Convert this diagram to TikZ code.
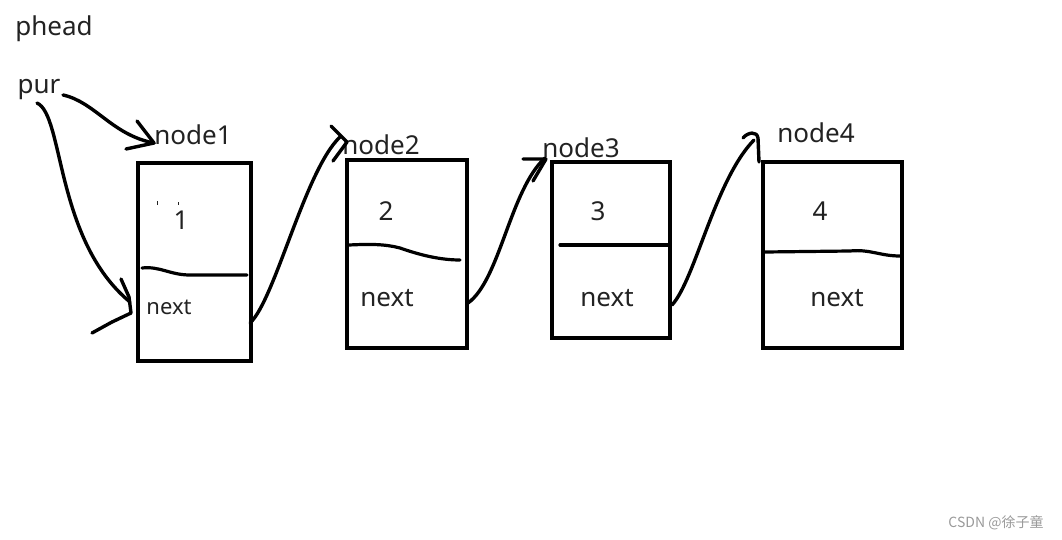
\documentclass[tikz,border=0pt]{standalone}
\usepackage{fontspec}
\setmainfont{Noto Sans}
\newfontfamily\cjk{Noto Sans CJK SC}
\definecolor{txt}{HTML}{222222}
\definecolor{wm}{HTML}{9A9A9A}
\begin{document}
\begin{tikzpicture}[x=1pt,y=-1pt,
  box/.style={draw=black,line width=4.4pt,minimum width=#1},
  lbl/.style={text=txt,font=\fontsize{26}{29}\selectfont,inner sep=0pt},
  hand/.style={draw=black,line width=3.4pt,line cap=round,line join=round},
  divider/.style={draw=black,line width=3.2pt,line cap=round}]
\useasboundingbox[fill=white] (0,0) rectangle (1062,540);
% boxes
\node[box=113pt,minimum height=198pt] (b1) at (194.5,262) {};
\node[box=120pt,minimum height=188pt] (b2) at (407,254) {};
\node[box=118pt,minimum height=176pt] (b3) at (611,250) {};
\node[box=139pt,minimum height=186pt] (b4) at (832.5,255) {};
% dividers
\draw[divider] (142,268) .. controls (160,266) and (170,275) .. (190,275) -- (247,275);
\draw[divider] (349,245) .. controls (370,244) and (385,244) .. (400,248) .. controls (420,255) and (440,260) .. (460,260);
\draw[divider] (560,245) -- (668,245);
\draw[divider] (765,252) -- (850,251) .. controls (870,249) and (880,256) .. (900,256);
% labels
\node[lbl] (phead) at (54,29) {phead};
\node[lbl] (pur) at (39,90) {pur};
\node[lbl] (n1) at (193,135) {node1};
\node[lbl] (n2) at (381,145) {node2};
\node[lbl] (n3) at (581,148) {node3};
\node[lbl] (n4) at (816,133) {node4};
\node[lbl] (v1) at (181,220) {1};
\node[lbl] (v2) at (386,211) {2};
\node[lbl] (v3) at (598,211) {3};
\node[lbl] (v4) at (820,211) {4};
\node[lbl,font=\fontsize{22}{25}\selectfont] (x1) at (169,307) {next};
\node[lbl] (x2) at (387,298) {next};
\node[lbl] (x3) at (607,298) {next};
\node[lbl] (x4) at (837,298) {next};
\node[text=wm,font=\cjk\fontsize{14}{16}\selectfont,inner sep=0pt] (wmk) at (996,523) {CSDN @徐子童};
% small marks
\draw[txt,line width=1pt] (157.5,201) -- (157.5,205);
\draw[txt,line width=1pt] (178,202) -- (178,205);
% connector endpoints
\coordinate (a1s) at (63,95);
\coordinate (a1e) at (154,143);
\coordinate (a2s) at (37,103);
\coordinate (a2e) at (130,302);
\coordinate (a3s) at (250,323);
\coordinate (a3e) at (340,137);
\coordinate (a4s) at (468,303);
\coordinate (a4e) at (545,158);
\coordinate (a5s) at (672,305);
\coordinate (a5e) at (754,140);
% pur -> node1
\draw[hand] (a1s) .. controls (95,102) and (112,135) .. (a1e);
\draw[hand] (137,121) -- (a1e) -- (126,149);
% pur -> next1
\draw[hand] (a2s) .. controls (64,115) and (55,240) .. (a2e);
\draw[hand] (121,279) -- (129,297) -- (131,313) -- (112,322) -- (92,333);
% next1 -> node2
\draw[hand] (a3s) .. controls (275,300) and (305,170) .. (a3e);
\draw[hand] (331,126) -- (347,142) -- (333,161);
% next2 -> node3
\draw[hand] (a4s) .. controls (500,280) and (510,190) .. (a4e);
\draw[hand] (523,159) -- (546,159) -- (533,181);
% next3 -> node4
\draw[hand] (a5s) .. controls (695,280) and (715,180) .. (a5e);
\draw[hand] (743,138) .. controls (748,132) and (757,131) .. (758,138) -- (759,162);
\end{tikzpicture}
\end{document}
